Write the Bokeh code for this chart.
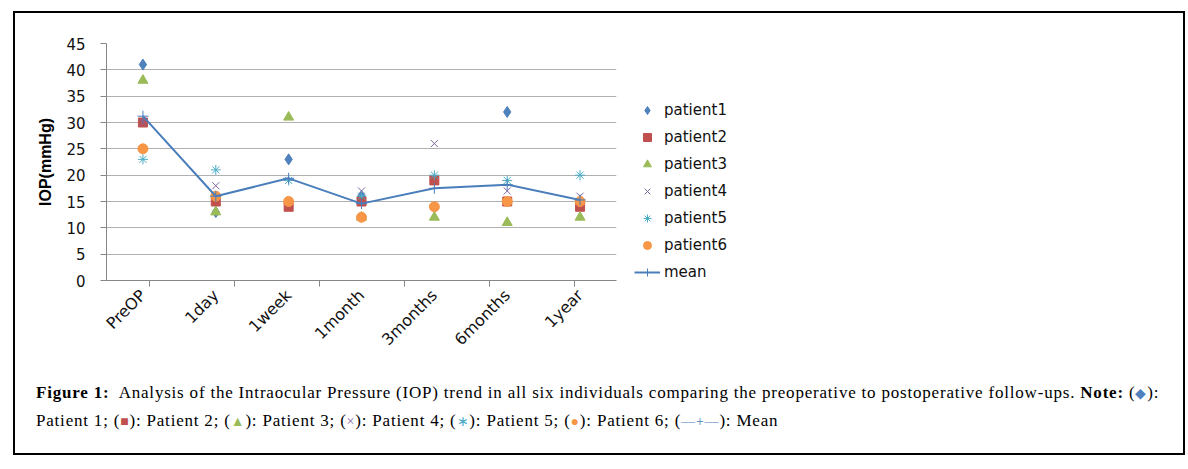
import math
from bokeh.plotting import figure
from bokeh.models import (FactorRange, Range1d, CategoricalAxis, FixedTicker,
                          Legend, LegendItem, Div)
from bokeh.layouts import column
from bokeh.embed import file_html
from bokeh.resources import INLINE

# ---------------- data ----------------
visits = ["PreOP", "1day", "1week", "1month", "3months", "6months", "1year"]
patient1 = [41, 13, 23, 16, 14, 32, 15]
patient2 = [30, 15, 14, 15, 19, 15, 14]
patient3 = [38, 13, 31, 12, 12, 11, 12]
patient4 = [30, 18, 15, 17, 26, 17, 16]
patient5 = [23, 21, 19, 16, 20, 19, 20]
patient6 = [25, 16, 15, 12, 14, 15, 15]
mean_iop = [31.2, 16.0, 19.4, 14.6, 17.5, 18.2, 15.3]
y_ticks = [0, 5, 10, 15, 20, 25, 30, 35, 40, 45]
series_names = ["patient1", "patient2", "patient3", "patient4", "patient5", "patient6", "mean"]
y_title = "IOP(mmHg)"

caption_line1_bold = "Figure 1:"
caption_line1 = ("Analysis of the Intraocular Pressure (IOP) trend in all six individuals "
                 "comparing the preoperative to postoperative follow-ups.")
caption_note = "Note:"
caption_items = ["Patient 1", "Patient 2", "Patient 3", "Patient 4", "Patient 5", "Patient 6", "Mean"]
caption_symbols = ["\u25c6", "\u25a0", "\u25b2", "\u00d7", "\u2217", "\u25cf", "\u2014+\u2014"]

# ---------------- styles ----------------
colors = ["#4f81bd", "#c0504d", "#9bbb59", "#8064a2", "#4bacc6", "#f79646", "#4a7ebb"]
axis_col = "#868686"
grid_col = "#b0b0b0"
font = "DejaVu Sans"

p = figure(x_range=FactorRange(*visits), y_range=Range1d(0, 45),
           width=1162, height=347, output_backend="svg", toolbar_location=None,
           x_axis_location=None, min_border_left=91, min_border_right=10,
           min_border_top=30, min_border_bottom=80, frame_width=510)
p.outline_line_color = None
p.background_fill_color = "white"
p.border_fill_color = "white"
p.xgrid.visible = False
p.ygrid.grid_line_color = grid_col
p.ygrid.grid_line_width = 1
p.yaxis.ticker = FixedTicker(ticks=y_ticks)
p.yaxis.axis_line_color = axis_col
p.yaxis.major_tick_line_color = axis_col
p.yaxis.major_tick_out = 6
p.yaxis.major_tick_in = 0
p.yaxis.minor_tick_line_color = None
p.yaxis.major_label_text_font = font
p.yaxis.major_label_text_font_size = "15px"
p.yaxis.major_label_text_color = "#111111"
p.yaxis.major_label_standoff = 15
p.yaxis.axis_label = y_title
p.yaxis.axis_label_text_font = "Liberation Sans"
p.yaxis.axis_label_text_font_style = "bold"
p.yaxis.axis_label_text_font_size = "16px"
p.yaxis.axis_label_text_color = "#000000"
p.yaxis.axis_label_standoff = 9

# x axis: tick marks between categories (boundary factors) + rotated labels
bounds = ["b%d" % i for i in range(len(visits) + 1)]
p.extra_x_ranges = {"bnd": FactorRange(factors=bounds, range_padding=-1,
                                       range_padding_units="absolute")}
tick_axis = CategoricalAxis(x_range_name="bnd",
                            major_label_text_font_size="1px", major_label_text_color=None,
                            major_label_standoff=0,
                            axis_line_color=axis_col, major_tick_line_color=axis_col,
                            major_tick_out=6, major_tick_in=0)
p.add_layout(tick_axis, "below")
cat_axis = CategoricalAxis(axis_line_color=None, major_tick_line_color=None,
                           major_label_orientation=math.pi / 4,
                           major_label_text_font=font, major_label_text_font_size="16px",
                           major_label_text_color="#111111", major_label_standoff=0)
p.add_layout(cat_axis, "below")

r1 = p.scatter(visits, patient1, marker="diamond", size=11, fill_color=colors[0], line_color=colors[0])
r2 = p.scatter(visits, patient2, marker="square", size=9, fill_color=colors[1], line_color=colors[1])
r3 = p.scatter(visits, patient3, marker="triangle", size=10, fill_color=colors[2], line_color=colors[2])
r4 = p.scatter(visits, patient4, marker="x", size=10, line_color=colors[3], line_width=1)
r5 = p.scatter(visits, patient5, marker="asterisk", size=10, line_color=colors[4], line_width=1)
r6 = p.scatter(visits, patient6, marker="circle", size=10, fill_color=colors[5], line_color=colors[5])
rl = p.line(visits, mean_iop, line_color=colors[6], line_width=2)
rm = p.scatter(visits, mean_iop, marker="cross", size=11, line_color=colors[6], line_width=1)

rends = [[r1], [r2], [r3], [r4], [r5], [r6], [rl, rm]]
legend = Legend(items=[LegendItem(label=n, renderers=r) for n, r in zip(series_names, rends)],
                location=(18, -2), border_line_color=None, background_fill_alpha=0,
                padding=0, margin=0, spacing=7, glyph_width=26, glyph_height=20,
                label_height=20, label_standoff=4, label_text_font=font,
                label_text_font_size="15px", label_text_color="#111111")
p.add_layout(legend, "right")

# ---------------- caption ----------------
def sym(i):
    return '(<span style="color:%s;font-size:14px">%s</span>)' % (colors[i], caption_symbols[i])

parts2 = [caption_items[0] + "; "]
for i in range(1, 7):
    parts2.append(sym(i) + ": " + caption_items[i] + ("; " if i < 6 else ""))
cap_html = ('<div style="font-family:\'Liberation Serif\',serif;font-size:17px;line-height:27px;'
            'letter-spacing:0.8px;color:#000;padding:19px 0 0 21px;white-space:nowrap;">'
            '<b>%s</b>&nbsp; %s <b>%s</b> %s:<br>%s</div>'
            % (caption_line1_bold, caption_line1, caption_note, sym(0), "".join(parts2)))
cap = Div(text=cap_html, width=1162, height=93, margin=0)

layout = column(p, cap, margin=(11, 0, 0, 13), styles={"border": "2px solid black"})
open("out.html", "w").write(file_html(layout, INLINE))
